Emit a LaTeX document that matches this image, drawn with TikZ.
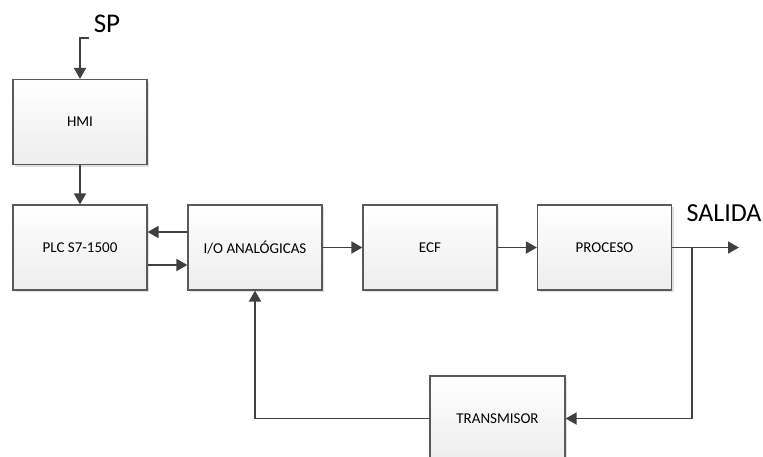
\documentclass[tikz,border=0pt]{standalone}
\usepackage{fontspec}
\setmainfont{Carlito}
\usetikzlibrary{arrows.meta,shadows}
\definecolor{linegray}{HTML}{404040}
\definecolor{boxedge}{HTML}{5A5A5A}
\definecolor{boxbottom}{HTML}{EDEDED}
\tikzset{
  block/.style={draw=boxedge, line width=1.2pt, top color=white, bottom color=boxbottom,
    minimum width=134pt, minimum height=85pt, inner sep=0pt, font=\fontsize{15}{17}\selectfont,
    drop shadow={shadow xshift=2pt, shadow yshift=-2pt, fill=black!12, opacity=1}},
  flow/.style={draw=linegray, line width=1.8pt, -{Triangle[length=11pt,width=12pt]}},
  biglabel/.style={font=\fontsize{27}{30}\selectfont, inner sep=0pt}
}
\begin{document}
\begin{tikzpicture}[x=1pt,y=-1pt]
  \useasboundingbox (0,0) rectangle (763,456);
  % blocks
  \node[block] (hmi)  at (80,122)   {HMI};
  \node[block] (plc)  at (80,247.5) {PLC S7-1500};
  \node[block] (io)   at (255,247.5) {I/O ANALÓGICAS};
  \node[block] (ecf)  at (430,247.5) {ECF};
  \node[block] (proc) at (604.5,247.5) {PROCESO};
  \node[block, minimum width=135pt] (tx) at (497.5,418.5) {TRANSMISOR};
  % labels
  \node[biglabel] (sp) at (107,24) {SP};
  \node[biglabel, font=\fontsize{26}{29}\selectfont] (out) at (724,213) {SALIDA};
  % set point input
  \coordinate (spin) at (89,38);
  \draw[flow] (spin) -- (hmi.north |- spin) -- (hmi.north);
  \draw[flow] (hmi.south) -- (plc.north);
  % PLC <-> I/O
  \draw[flow] ([yshift=15.5pt]io.west) -- ([yshift=15.5pt]plc.east);
  \draw[flow] ([yshift=-17.5pt]plc.east) -- ([yshift=-17.5pt]io.west);
  % forward path
  \draw[flow] (io.east) -- (ecf.west);
  \draw[flow] (ecf.east) -- (proc.west);
  \coordinate (tap) at (692,247.5);
  \coordinate (outend) at (739,247.5);
  \draw[flow] (proc.east) -- (outend);
  % feedback path
  \draw[flow] (tap) -- (tap |- tx.east) -- (tx.east);
  \draw[flow] (tx.west) -- (io.south |- tx.west) -- (io.south);
\end{tikzpicture}
\end{document}
